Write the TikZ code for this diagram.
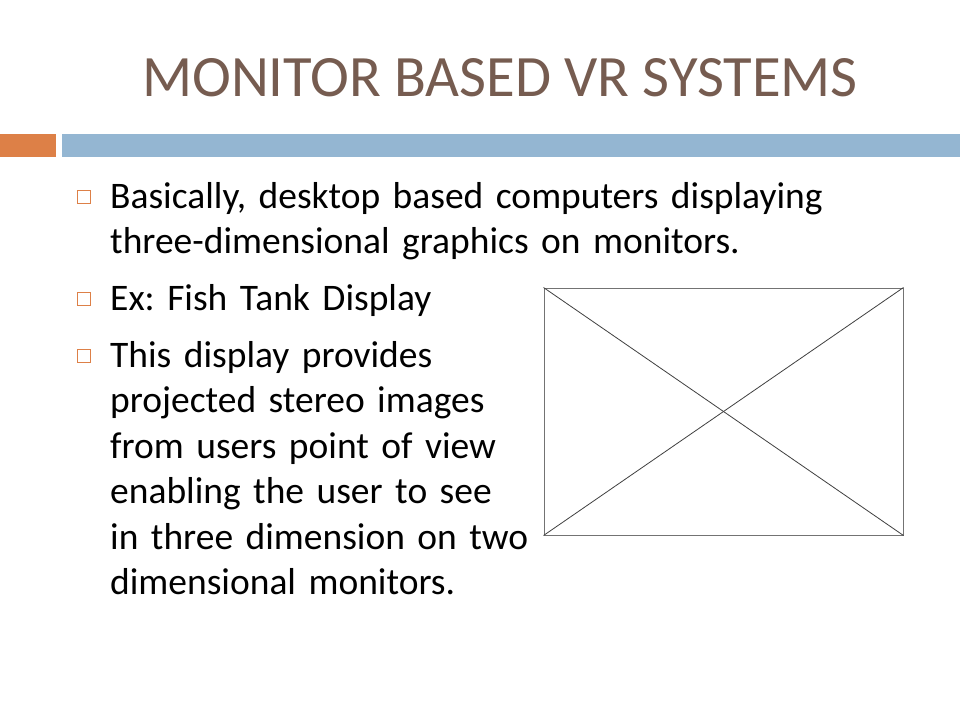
\documentclass[tikz,border=0pt]{standalone}
\usepackage{fontspec}
\setmainfont{Carlito}
\usetikzlibrary{positioning}
\definecolor{titlebrown}{RGB}{118,92,80}
\definecolor{accentorange}{RGB}{221,128,71}
\definecolor{accentblue}{RGB}{148,182,210}
\tikzset{
  bodytext/.style={anchor=base west, inner sep=0pt, align=left, text width=800pt,
    font=\fontsize{37.5}{45.5}\selectfont\frenchspacing},
  bulletbox/.style={draw=accentorange, line width=1.5pt, minimum size=13pt,
    inner sep=0pt}
}

\begin{document}
\begin{tikzpicture}[x=1pt, y=-1pt]

                \useasboundingbox[fill=white] (0, 0) rectangle (960, 720);

                \node[anchor=base, inner sep=0pt, text=titlebrown,
                  font=\fontsize{58.6}{60}\selectfont] (title) at (500, 96)
                    {MONITOR BASED VR SYSTEMS};

                \fill[accentorange] (0, 134) rectangle (56, 157);
                \fill[accentblue] (62, 134) rectangle (960, 157);

                \node[bulletbox] (b1) at (84, 197) {};
                \node[bodytext] (t1) at (110, 208)
                  {Basically, desktop based computers displaying\\
                   three-dimensional graphics on monitors.};

                \node[bulletbox] (b2) at (84, 299) {};
                \node[bodytext] (t2) at (110, 310) {Ex: Fish Tank Display};

                \node[bulletbox] (b3) at (84, 356) {};
                \node[bodytext] (t3) at (110, 367)
                  {This display provides\\ projected stereo images\\
                   from users point of view\\ enabling the user to see\\
                   in three dimension on two\\ dimensional monitors.};

                \node[draw=black!55, line width=1pt, minimum width=359pt,
                  minimum height=247pt, inner sep=0pt] (pic) at (723.5, 411.5) {};
                \draw[black!75, line width=0.8pt] (pic.north west) -- (pic.south east);
                \draw[black!75, line width=0.8pt] (pic.south west) -- (pic.north east);

\end{tikzpicture}
\end{document}
